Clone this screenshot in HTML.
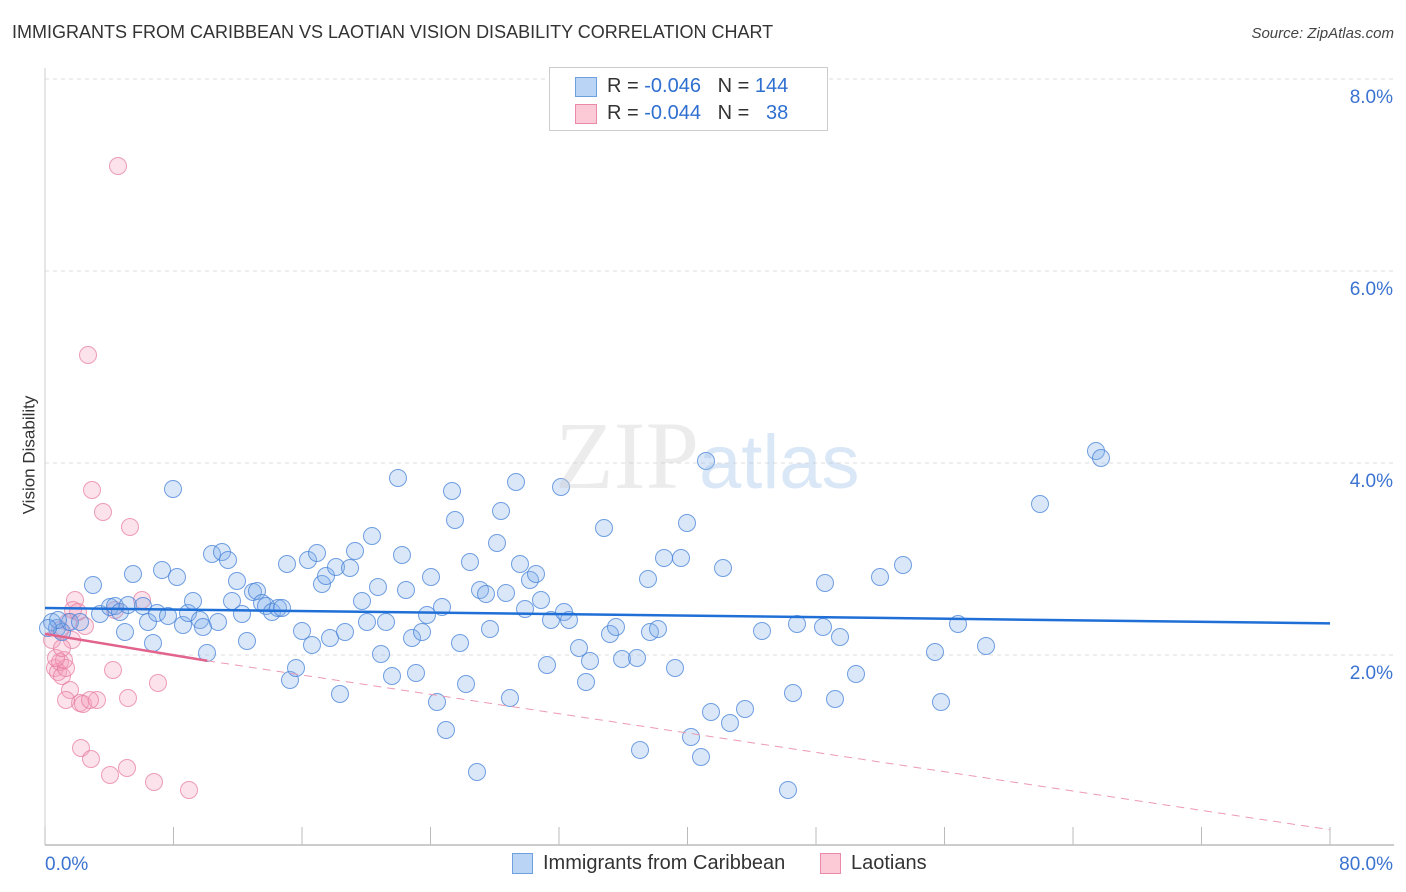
<!DOCTYPE html>
<html><head><meta charset="utf-8"><style>
body{margin:0;background:#fff;font-family:"Liberation Sans",sans-serif;}
#wrap{position:relative;width:1406px;height:892px;overflow:hidden;}
.t{position:absolute;white-space:nowrap;}
</style></head><body>
<div id="wrap">
<div class="t" style="left:12px;top:22px;font-size:18px;color:#333;">IMMIGRANTS FROM CARIBBEAN VS LAOTIAN VISION DISABILITY CORRELATION CHART</div>
<div class="t" style="right:12px;top:25px;font-size:15px;color:#444;font-style:italic;">Source: ZipAtlas.com</div>
<div class="t" style="left:-30px;top:445px;font-size:17px;color:#333;transform:rotate(-90deg);">Vision Disability</div>
<svg id="svg" width="1406" height="892" style="position:absolute;left:0;top:0"></svg>
<div style="position:absolute;left:549px;top:67px;width:277px;height:62px;border:1px solid #ccc;background:#fff;font-size:20px;color:#333;">
 <div style="position:absolute;left:25px;top:9px;width:20px;height:18px;background:#b9d4f5;border:1px solid #6ea0e0;"></div>
 <div class="t" style="left:57px;top:7px;">R = <span style="color:#2f6fd0">-0.046</span>&nbsp;&nbsp;&nbsp;N = <span style="color:#2f6fd0">144</span></div>
 <div style="position:absolute;left:25px;top:36px;width:20px;height:18px;background:#fcc9d6;border:1px solid #e98aa8;"></div>
 <div class="t" style="left:57px;top:34px;">R = <span style="color:#2f6fd0">-0.044</span>&nbsp;&nbsp;&nbsp;N = &nbsp;&nbsp;<span style="color:#2f6fd0">38</span></div>
</div>
<div class="t" style="left:555px;top:400px;font-size:96px;color:rgba(200,200,200,0.35);font-family:'Liberation Serif',serif;">ZIP<span style="font-family:'Liberation Sans',sans-serif;color:rgba(150,185,230,0.35);font-size:76px;">atlas</span></div>
<div>
 <div style="position:absolute;left:512px;top:853px;width:19px;height:19px;background:#b9d4f5;border:1px solid #6ea0e0;"></div>
 <div class="t" style="left:543px;top:852px;font-size:20px;color:#333;">Immigrants from Caribbean</div>
 <div style="position:absolute;left:820px;top:853px;width:19px;height:19px;background:#fcc9d6;border:1px solid #e98aa8;"></div>
 <div class="t" style="left:851px;top:852px;font-size:20px;color:#333;">Laotians</div>
</div>
</div>
<script>
const yTicks=[2,4,6,8];
const xTickLabels=["0.0%","80.0%"];
const blueData=[[52,622],[57,628],[62,632],[70,622],[80,622],[93,585],[100,614],[110,607],[115,606],[120,612],[125,632],[128,605],[133,574],[143,606],[148,622],[153,643],[157,613],[162,570],[168,616],[173,489],[177,577],[183,625],[188,613],[193,601],[200,620],[203,627],[207,653],[212,554],[218,622],[222,552],[228,560],[232,601],[237,581],[242,614],[247,641],[253,592],[257,591],[262,603],[266,606],[272,612],[278,608],[282,608],[287,564],[290,680],[296,668],[302,631],[308,560],[312,645],[317,553],[322,584],[326,576],[330,638],[336,567],[340,694],[345,632],[350,568],[355,551],[362,601],[367,622],[372,536],[378,587],[381,654],[386,622],[392,676],[398,478],[402,555],[406,590],[412,638],[416,673],[422,632],[427,615],[431,577],[437,702],[442,607],[446,730],[452,491],[455,520],[460,643],[466,684],[470,562],[477,772],[480,590],[486,594],[490,629],[497,543],[501,511],[506,593],[510,698],[516,482],[520,564],[525,609],[530,580],[536,574],[541,600],[547,665],[551,620],[561,487],[564,612],[569,620],[579,648],[586,682],[590,661],[604,528],[610,634],[616,627],[622,659],[637,658],[640,750],[648,579],[650,632],[658,629],[664,558],[675,668],[681,558],[687,523],[691,737],[701,757],[706,461],[711,712],[723,568],[730,723],[745,709],[762,631],[788,790],[793,693],[797,624],[825,583],[823,627],[835,699],[840,637],[856,674],[880,577],[903,565],[935,652],[941,702],[958,624],[986,646],[1040,504],[1096,451],[1101,458],[58,620],[48,628]]
 .map(p=>[(p[0]-45)/1285*80,(847-p[1])/96]);
const pinkData=[[52,640],[55,668],[58,672],[60,662],[62,676],[66,668],[68,622],[72,640],[75,600],[73,610],[80,703],[83,704],[81,748],[85,626],[88,355],[91,759],[92,490],[97,700],[103,512],[110,775],[113,670],[115,610],[118,166],[127,768],[128,698],[130,527],[142,600],[154,782],[158,683],[189,790],[60,630],[64,660],[70,690],[56,658],[66,700],[78,612],[90,700],[62,648]]
 .map(p=>[(p[0]-45)/1285*80,(847-p[1])/96]);
const blueTrend=[[0,2.49],[80,2.33]];
const pinkTrend=[[0,2.22],[10.1,1.94]];
const pinkTrendExt=[[10.1,1.94],[80,0.18]];
const X=v=>45+v/80*1285, Y=v=>847-v*96;
const svg=document.getElementById('svg');const NS='http://www.w3.org/2000/svg';
function mk(tag,a){const e=document.createElementNS(NS,tag);for(const k in a)e.setAttribute(k,a[k]);svg.appendChild(e);return e;}
yTicks.forEach(t=>{
 const g=mk('line',{x1:45,x2:1394,y1:Y(t),y2:Y(t),stroke:'#ddd','stroke-dasharray':'4,4'});
 
 
 const tx=mk('text',{x:1393,y:Y(t)+24,'text-anchor':'end','font-size':19,fill:'#3b73d1','font-family':'Liberation Sans, sans-serif'});
 tx.textContent=t.toFixed(1)+'%';
 
 
});
const ax=mk('line',{x1:45,x2:1394,y1:845,y2:845,stroke:'#bbb','stroke-width':1.5});


const ay=mk('line',{x1:45,x2:45,y1:68,y2:845,stroke:'#ccc'});


for(let i=0;i<=10;i++){const l=mk('line',{x1:X(i*8),x2:X(i*8),y1:827,y2:845,stroke:'#bbb'});
 
 }
xTickLabels.forEach((s,i)=>{const t=mk('text',{x:i?1393:45,y:870,'text-anchor':i?'end':'start','font-size':19,fill:'#3b73d1','font-family':'Liberation Sans, sans-serif'});t.textContent=s;
 
 });
pinkData.forEach(d=>{const c=mk('circle',{cx:X(d[0]),cy:Y(d[1]),r:8.5,fill:'rgba(245,160,188,0.3)',stroke:'rgba(230,120,155,0.7)','stroke-width':1});
 
 });
blueData.forEach(d=>{const c=mk('circle',{cx:X(d[0]),cy:Y(d[1]),r:8.5,fill:'rgba(130,175,235,0.3)',stroke:'rgba(70,130,215,0.75)','stroke-width':1});
 
 });
const bt=mk('line',{x1:X(blueTrend[0][0]),y1:Y(blueTrend[0][1]),x2:X(blueTrend[1][0]),y2:Y(blueTrend[1][1]),stroke:'#1f6fd6','stroke-width':2.5});


const pt=mk('line',{x1:X(pinkTrend[0][0]),y1:Y(pinkTrend[0][1]),x2:X(pinkTrend[1][0]),y2:Y(pinkTrend[1][1]),stroke:'#e2638c','stroke-width':2.5});


const pe=mk('line',{x1:X(pinkTrendExt[0][0]),y1:Y(pinkTrendExt[0][1]),x2:X(pinkTrendExt[1][0]),y2:Y(pinkTrendExt[1][1]),stroke:'#ec9ab4','stroke-width':1,'stroke-dasharray':'8,6'});


</script>
</body></html>
